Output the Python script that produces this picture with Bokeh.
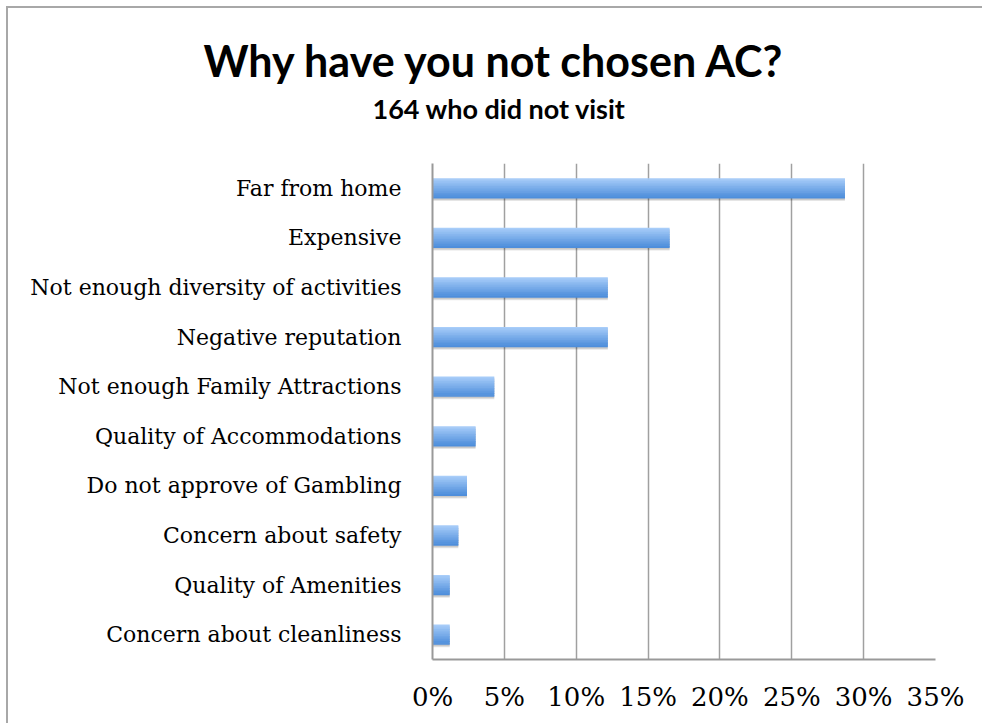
from bokeh.plotting import figure
from bokeh.models import FactorRange, FixedTicker, Title
from bokeh.transform import dodge
from bokeh.embed import file_html
from bokeh.resources import INLINE

categories = [
    "Far from home",
    "Expensive",
    "Not enough diversity of activities",
    "Negative reputation",
    "Not enough Family Attractions",
    "Quality of Accommodations",
    "Do not approve of Gambling",
    "Concern about safety",
    "Quality of Amenities",
    "Concern about cleanliness",
]
percents = [28.7, 16.5, 12.2, 12.2, 4.3, 3.0, 2.4, 1.8, 1.2, 1.2]
tick_values = [0, 5, 10, 15, 20, 25, 30, 35]
tick_labels = ["0%", "5%", "10%", "15%", "20%", "25%", "30%", "35%"]
title_text = "Why have you not chosen AC?"
subtitle_text = "164 who did not visit"

factors = list(reversed(categories))

p = figure(
    width=982, height=723,
    y_range=FactorRange(factors=factors, range_padding=0),
    x_range=(0, 35),
    output_backend="svg", toolbar_location=None, title=None,
    min_border_left=432, min_border_right=47, min_border_top=163, min_border_bottom=64,
)
p.styles = {
    "background": "linear-gradient(#a8a8a8,#a8a8a8) 6px 6px / 2px 100% no-repeat, "
                  "linear-gradient(#a8a8a8,#a8a8a8) 6px 6px / 100% 2px no-repeat, white"
}
p.outline_line_color = None
p.background_fill_color = "white"
p.border_fill_color = None

src = dict(cat=categories, val=percents)

# soft shadow under bars
p.hbar(y=dodge("cat", -0.05, range=p.y_range), left=0, right="val", height=0.41,
       source=src, fill_color="black", fill_alpha=0.10, line_color=None)
p.hbar(y=dodge("cat", -0.03, range=p.y_range), left=0, right="val", height=0.41,
       source=src, fill_color="black", fill_alpha=0.12, line_color=None)

# gradient bar built from strips
n = 12
h = 0.41
top_rgb = (0xA8, 0xCD, 0xF9)
bot_rgb = (0x4E, 0x8E, 0xDB)
for i in range(n):
    t = i / (n - 1)
    col = "#%02x%02x%02x" % tuple(int(round(a + (b - a) * t)) for a, b in zip(top_rgb, bot_rgb))
    off = h / 2 - (i + 0.5) * h / n
    hh = h / n * (1.6 if 0 < i < n - 1 else 1.0)
    p.hbar(y=dodge("cat", off, range=p.y_range), left=0, right="val", height=hh,
           source=src, fill_color=col, line_color=None)

p.xgrid.grid_line_color = "#a0a0a0"
p.xgrid.grid_line_width = 1.5
p.ygrid.grid_line_color = None
p.xaxis.ticker = FixedTicker(ticks=tick_values)
p.xaxis.major_label_overrides = {v: l for v, l in zip(tick_values, tick_labels)}

for ax in (p.xaxis[0], p.yaxis[0]):
    ax.major_tick_line_color = None
    ax.minor_tick_line_color = None
    ax.axis_line_color = "#999999"
    ax.axis_line_width = 2
    ax.major_label_text_font = "DejaVu Serif"
    ax.major_label_text_color = "black"
p.yaxis.major_label_text_font_size = "22px"
p.xaxis.major_label_text_font_size = "26px"
p.yaxis.major_label_standoff = 25
p.xaxis.major_label_standoff = 16

sub = Title(text=subtitle_text, align="left", offset=-60, text_font="Lato",
            text_font_size="27px", text_font_style="bold", text_color="black", standoff=77)
ttl = Title(text=title_text, align="left", offset=-229, text_font="Lato",
            text_font_size="43px", text_font_style="bold", text_color="black", standoff=-68)
p.add_layout(sub, "above")
p.add_layout(ttl, "above")

open("out.html", "w").write(file_html(p, INLINE))
